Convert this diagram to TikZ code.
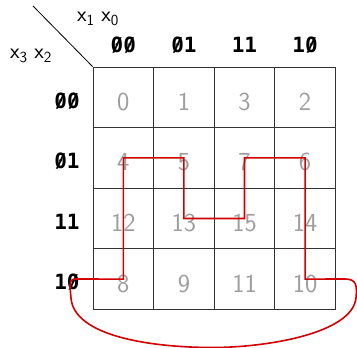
\documentclass[tikz,border=0pt]{standalone}
\usepackage{fontspec}
\usepackage{graphicx}
\newfontfamily\hdrfont{DejaVu Sans Mono}
\newcommand\sz{\makebox[0pt][l]{0}\makebox[0.602em][c]{\raisebox{0.03em}{\resizebox{!}{0.66em}{/}}}}
\tikzset{
  cell/.style={draw=black!80, line width=0.8pt, minimum width=60.6pt, minimum height=60.6pt, inner sep=0pt, anchor=center},
  num/.style={text=black!38, font=\sffamily\fontsize{26}{26}\selectfont, inner sep=0pt, yshift=-4.5pt},
  hdr/.style={font=\hdrfont\bfseries\fontsize{21}{21}\selectfont, inner sep=0pt},
  var/.style={font=\sffamily\fontsize{22}{22}\selectfont, inner sep=0pt},
  loop/.style={draw={rgb,255:red,210;green,0;blue,0}, line width=1.6pt, line join=miter}
}
\begin{document}
\begin{tikzpicture}[x=1pt,y=-1pt]
\useasboundingbox (0,0) rectangle (357,348);
% cells
\foreach \n/\c/\r in {0/0/0,1/1/0,3/2/0,2/3/0,4/0/1,5/1/1,7/2/1,6/3/1,12/0/2,13/1/2,15/2/2,14/3/2,8/0/3,9/1/3,11/2/3,10/3/3}{
  \node[cell] (c\n) at ({123.3+60.6*\c},{97.3+60.6*\r}) {};
  \node[num] (n\n) at (c\n.center) {\n};
}
% corner line
\coordinate (tl) at (33,6);
\draw[line width=0.8pt] (tl) -- (c0.north west);
% variable labels
\node[var] (xa) at (98,19) {x\textsubscript{1} x\textsubscript{0}};
\node[var] (xb) at (31,56) {x\textsubscript{3} x\textsubscript{2}};
% column headers
\node[hdr] (h0) at (123.3,45) {\sz\sz};
\node[hdr] (h1) at (183.9,45) {\sz 1};
\node[hdr] (h3) at (244.5,45) {11};
\node[hdr] (h2) at (305.1,45) {1\sz};
% row headers
\node[hdr] (r0) at (67,101) {\sz\sz};
\node[hdr] (r1) at (67,161) {\sz 1};
\node[hdr] (r3) at (67,222) {11};
\node[hdr] (r2) at (67,282) {1\sz};
% red loop
\coordinate (ls) at (74,279);
\coordinate (re) at (345,279);
\draw[loop] (ls) -- (c8.center) -- (c4.center) -- (c5.center) -- (c13.center) -- (c15.center) -- (c7.center) -- (c6.center) -- (c10.center) -- (re)
  .. controls (357,279) and (357,286) .. (356,298)
  .. controls (352,334) and (265,347.5) .. (213,347.5)
  .. controls (150,347.5) and (74,336) .. (71,298)
  .. controls (70,287) and (69,279) .. (ls);
\end{tikzpicture}
\end{document}
